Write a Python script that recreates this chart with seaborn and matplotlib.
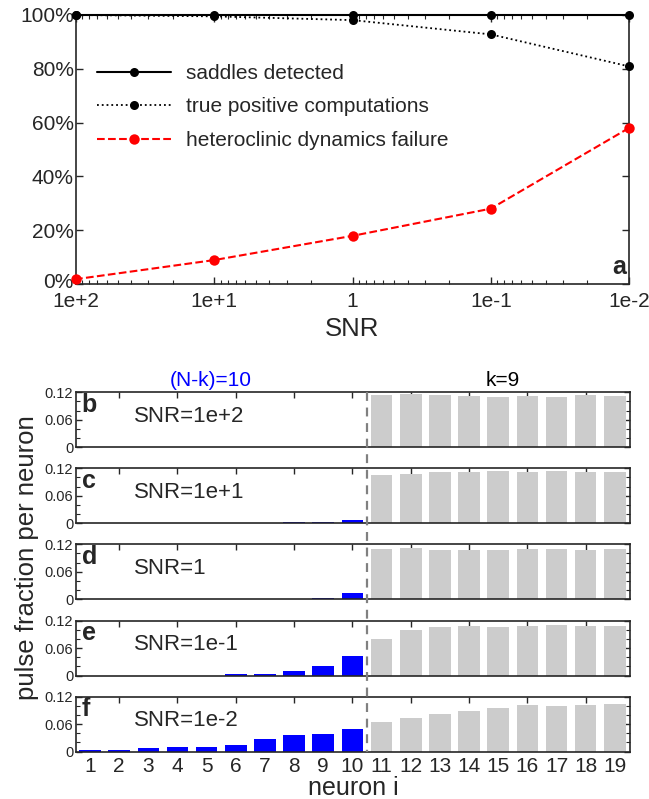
import numpy as np
import pandas as pd
import matplotlib
matplotlib.use("Agg")
import matplotlib.pyplot as plt
import seaborn as sns
from matplotlib.lines import Line2D
from matplotlib.transforms import blended_transform_factory, ScaledTranslation
from matplotlib.ticker import FixedLocator, MultipleLocator, LogLocator, NullFormatter

# ---------------- data ----------------
snr = [100, 10, 1, 0.1, 0.01]
snr_labels = ["1e+2", "1e+1", "1", "1e-1", "1e-2"]
saddles_detected = [1.0, 1.0, 1.0, 1.0, 1.0]
true_positive = [1.0, 0.995, 0.981, 0.928, 0.809]
hetero_failure = [0.018, 0.089, 0.179, 0.280, 0.580]

neurons = list(range(1, 20))
panel_letters = ["b", "c", "d", "e", "f"]
panel_snr = ["SNR=1e+2", "SNR=1e+1", "SNR=1", "SNR=1e-1", "SNR=1e-2"]
frac_b = [0, 0, 0, 0, 0, 0, 0, 0, 0, 0,
          0.1145, 0.116, 0.1135, 0.112, 0.109, 0.112, 0.1105, 0.113, 0.1115]
frac_c = [0, 0, 0, 0, 0, 0, 0, 0.0015, 0.0035, 0.006,
          0.1047, 0.1076, 0.112, 0.112, 0.1142, 0.112, 0.1142, 0.1127, 0.112]
frac_d = [0, 0, 0, 0, 0, 0.0012, 0.0008, 0.001, 0.0018, 0.013,
          0.1099, 0.1113, 0.1084, 0.1084, 0.1077, 0.1092, 0.1092, 0.1077, 0.1092]
frac_e = [0, 0, 0, 0, 0, 0.0035, 0.0035, 0.0088, 0.0205, 0.0417,
          0.0793, 0.1004, 0.1055, 0.1091, 0.1055, 0.1091, 0.1105, 0.1091, 0.1091]
frac_f = [0.0036, 0.0036, 0.008, 0.0095, 0.0109, 0.0145, 0.0269, 0.0356, 0.0393, 0.0502,
          0.064, 0.0727, 0.0829, 0.0895, 0.096, 0.1025, 0.0989, 0.1025, 0.1047]
fractions = [frac_b, frac_c, frac_d, frac_e, frac_f]
group = ["non-winner"] * 10 + ["winner"] * 9

# ---------------- style ----------------
sns.set_theme(style="ticks")
plt.rcParams["font.family"] = ["Liberation Sans", "DejaVu Sans"]
plt.rcParams["axes.linewidth"] = 1.2

fig = plt.figure(figsize=(6.49, 7.99), dpi=100)
W, H = 649, 799

def fax(l, t, r, b):
    return fig.add_axes([l / W, 1 - b / H, (r - l) / W, (b - t) / H])

# ---------------- panel a ----------------
ax = fax(76, 15, 629, 284)
df_a = pd.DataFrame({
    "snr": snr * 3,
    "val": saddles_detected + true_positive + hetero_failure,
    "series": (["saddles detected"] * 5 + ["true positive computations"] * 5
               + ["heteroclinic dynamics failure"] * 5),
})
styles = {
    "saddles detected": dict(color="black", ls="-", lw=1.5, ms=6.5),
    "true positive computations": dict(color="black", ls=":", lw=1.3, ms=6.5),
    "heteroclinic dynamics failure": dict(color="red", ls="--", lw=1.5, ms=7.5),
}
for name, st in styles.items():
    sub = df_a[df_a["series"] == name]
    sns.lineplot(data=sub, x="snr", y="val", ax=ax, color=st["color"],
                 linestyle=st["ls"], linewidth=st["lw"], marker="o",
                 markersize=st["ms"], markeredgewidth=0, label=name, clip_on=False,
                 zorder=3)
ax.set_xscale("log")
ax.set_xlim(100, 0.01)
ax.set_ylim(0, 1)
ax.set_xticks(snr)
ax.set_xticklabels(snr_labels)
ax.xaxis.set_minor_locator(LogLocator(base=10, subs=np.arange(2, 10)))
ax.xaxis.set_minor_formatter(NullFormatter())
ax.set_yticks(np.arange(0, 1.01, 0.2))
ax.set_yticklabels([f"{int(round(v * 100))}%" for v in np.arange(0, 1.01, 0.2)])
ax.tick_params(axis="both", which="major", direction="in", length=5,
               top=True, right=True, labelsize=15, width=1)
ax.tick_params(axis="y", which="major", pad=1.5)
ax.tick_params(axis="x", which="major", pad=6)
ax.tick_params(axis="x", which="minor", direction="in", length=3,
               top=True, bottom=True, width=0.8)
zero_lab = ax.get_yticklabels()[0]
zero_lab.set_transform(zero_lab.get_transform()
                       + ScaledTranslation(0, 2.5 / 72, fig.dpi_scale_trans))
ax.set_xlabel("SNR", fontsize=18.5, labelpad=4)
ax.set_ylabel("")
leg = ax.legend(loc="upper left", bbox_to_anchor=(0.004, 0.888), frameon=False,
                fontsize=15, handlelength=3.55, labelspacing=0.7, handletextpad=0.72)
ax.text(0.995, 0.02, "a", transform=ax.transAxes, ha="right", va="bottom",
        fontsize=18, fontweight="bold")

# ---------------- panels b-f ----------------
tops = [392.3, 468.3, 544.3, 620.7, 696.7]
height = 54.8
palette = {"non-winner": "#0000ff", "winner": "#cccccc"}
axes = []
for i, (vals, letter, lab, top) in enumerate(zip(fractions, panel_letters, panel_snr, tops)):
    bx = fax(76, top, 630, top + height)
    axes.append(bx)
    d = pd.DataFrame({"neuron": neurons, "frac": vals, "group": group})
    sns.barplot(data=d, x="neuron", y="frac", hue="group", palette=palette,
                native_scale=True, dodge=False, width=0.74, legend=False,
                ax=bx, saturation=1, edgecolor="none", zorder=1)
    bx.set_xlim(0.52, 19.52)
    bx.set_ylim(0, 0.12)
    bx.xaxis.remove_overlapping_locs = False
    bx.set_xticks(neurons)
    bx.xaxis.set_minor_locator(FixedLocator(list(range(2, 20, 2))))
    if i == 4:
        bx.set_xticklabels([str(n) for n in neurons])
        bx.set_xlabel("neuron i", fontsize=18, labelpad=0)
    else:
        bx.set_xticklabels([])
        bx.set_xlabel("")
    bx.set_ylabel("")
    bx.set_yticks([0, 0.06, 0.12])
    bx.set_yticklabels(["0", "0.06", "0.12"])
    bx.yaxis.set_minor_locator(MultipleLocator(0.02))
    bx.tick_params(axis="x", which="major", length=0, labelsize=15, pad=4)
    bx.tick_params(axis="x", which="minor", direction="in", length=4,
                   top=True, bottom=False, width=1)
    bx.tick_params(axis="y", which="major", direction="in", length=4,
                   left=True, right=True, labelsize=10.5, pad=2, width=1)
    bx.tick_params(axis="y", which="minor", direction="in", length=3,
                   left=True, right=True, width=0.8)
    bx.text(0.01, 0.99, letter, transform=bx.transAxes, ha="left", va="top",
            fontsize=18, fontweight="bold")
    bx.text(0.105, 0.56, lab, transform=bx.transAxes, ha="left", va="center",
            fontsize=16)

axes[0].text(211 / W, 1 - 380 / H, "(N-k)=10", transform=fig.transFigure,
             ha="center", va="center", fontsize=15, color="#0000ff")
axes[0].text(503 / W, 1 - 380 / H, "k=9", transform=fig.transFigure,
             ha="center", va="center", fontsize=15, color="black")

trans = blended_transform_factory(axes[0].transData, fig.transFigure)
fig.add_artist(Line2D([10.5, 10.5], [1 - 392.3 / H, 1 - (696.7 + height) / H],
                      transform=trans, color="#808080", lw=1.6,
                      linestyle=(0, (4, 3)), zorder=5))

fig.text(27 / W, 1 - 558 / H, "pulse fraction per neuron", rotation=90,
         ha="center", va="center", fontsize=18.5)

fig.savefig("out.png", dpi=100)
